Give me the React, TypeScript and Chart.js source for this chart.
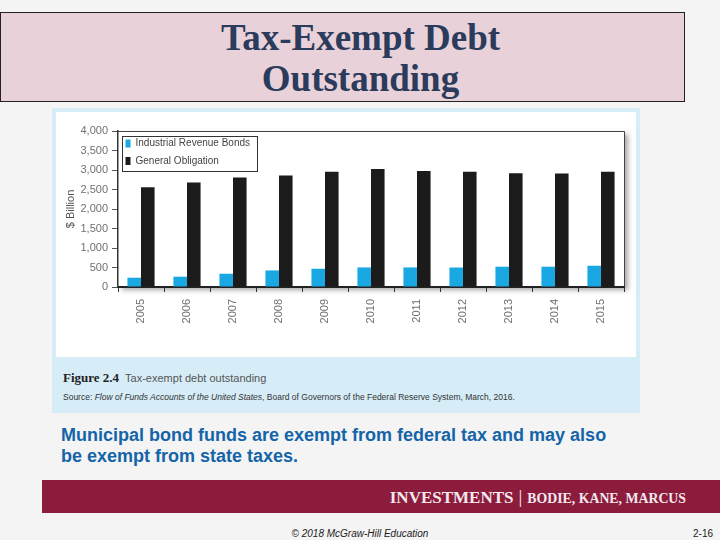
import React, { useEffect, useRef } from "react";
import { Chart, registerables } from "chart.js";

Chart.register(...registerables);

const years = ["2005", "2006", "2007", "2008", "2009", "2010", "2011", "2012", "2013", "2014", "2015"];
const industrialRevenueBonds = [238, 264, 340, 425, 468, 502, 502, 500, 520, 520, 545];
const generalObligation = [2560, 2677, 2805, 2856, 2958, 3028, 2977, 2958, 2917, 2908, 2958];
const seriesNames = ["Industrial Revenue Bonds", "General Obligation"];
const yMin = 0;
const yMax = 4000;
const yStep = 500;

const framePlugin = {
  id: "frameShadow",
  afterLayout(chart: any) {
    const lg = chart.legend;
    if (!lg) return;
    const dy = chart.chartArea.top - lg.top;
    lg.top += dy;
    lg.bottom += dy;
    (lg.legendHitBoxes || []).forEach((h: any) => {
      h.top += dy;
    });
  },
  beforeDraw(chart: any) {
    const { ctx, chartArea: a } = chart;
    ctx.save();
    ctx.shadowColor = "rgba(0,0,0,0.35)";
    ctx.shadowBlur = 5;
    ctx.shadowOffsetX = 4;
    ctx.shadowOffsetY = 3;
    ctx.fillStyle = "#ffffff";
    ctx.fillRect(a.left, a.top, a.right - a.left, a.bottom - a.top);
    ctx.restore();
    ctx.save();
    ctx.strokeStyle = "#444";
    ctx.lineWidth = 1;
    ctx.beginPath();
    ctx.moveTo(a.left, a.top + 0.5);
    ctx.lineTo(a.right + 0.5, a.top + 0.5);
    ctx.lineTo(a.right + 0.5, a.bottom);
    ctx.stroke();
    ctx.restore();
  },
  afterDraw(chart: any) {
    const lg = chart.legend;
    if (!lg || !lg.legendHitBoxes || !lg.legendHitBoxes.length) return;
    const hb = lg.legendHitBoxes;
    let l = Infinity, t = Infinity, r = -Infinity, b = -Infinity;
    hb.forEach((h: any) => {
      l = Math.min(l, h.left);
      t = Math.min(t, h.top);
      r = Math.max(r, h.left + h.width);
      b = Math.max(b, h.top + h.height);
    });
    const { ctx } = chart;
    ctx.save();
    ctx.strokeStyle = "#333";
    ctx.lineWidth = 1;
    ctx.strokeRect(Math.round(l - 4) + 0.5, Math.round(t - 3) + 0.5, Math.round(r - l + 10), Math.round(b - t + 7));
    ctx.restore();
  },
};

function TaxChart() {
  const ref = useRef<HTMLCanvasElement | null>(null);
  useEffect(() => {
    if (!ref.current) return;
    const chart = new Chart(ref.current, {
      type: "bar",
      data: {
        labels: years,
        datasets: [
          {
            label: seriesNames[0],
            data: industrialRevenueBonds,
            backgroundColor: "#19a8e2",
            borderWidth: 0,
            barPercentage: 1,
            categoryPercentage: 0.59,
          },
          {
            label: seriesNames[1],
            data: generalObligation,
            backgroundColor: "#1b1b1b",
            borderWidth: 0,
            barPercentage: 1,
            categoryPercentage: 0.59,
          },
        ],
      },
      options: {
        animation: false,
        responsive: true,
        maintainAspectRatio: false,
        layout: { padding: { left: 0, right: 12, top: 19, bottom: 0 } },
        plugins: {
          tooltip: { enabled: false },
          legend: {
            position: "chartArea" as any,
            align: "start",
            labels: {
              boxWidth: 5,
              boxHeight: 8,
              padding: 7.5,
              color: "#444",
              font: { family: "Liberation Sans", size: 10 },
            },
          },
        },
        scales: {
          x: {
            grid: { offset: true, drawOnChartArea: false, tickLength: 5, color: "#333", lineWidth: 1 },
            border: { color: "#222", width: 2 },
            ticks: {
              minRotation: 90,
              maxRotation: 90,
              padding: 7,
              color: "#707070",
              font: { family: "Liberation Sans", size: 11 },
            },
            afterFit(scale: any) {
              scale.height = 70;
            },
          },
          y: {
            min: yMin,
            max: yMax,
            grid: { drawOnChartArea: false, tickLength: 6, color: "#555", lineWidth: 1 },
            border: { color: "#333", width: 1.5 },
            ticks: {
              stepSize: yStep,
              padding: 4,
              color: "#707070",
              font: { family: "Liberation Sans", size: 11 },
              callback: (v: any) => Number(v).toLocaleString("en-US"),
            },
            title: {
              display: true,
              text: "$ Billion",
              color: "#555",
              font: { family: "Liberation Sans", size: 11 },
              padding: { top: 8, bottom: 0 },
            },
            afterFit(scale: any) {
              scale.width = 62;
            },
          },
        },
      },
      plugins: [framePlugin],
    });
    return () => chart.destroy();
  }, []);
  return (
    <div style={{ position: "absolute", left: 56, top: 112, width: 580, height: 245 }}>
      <canvas ref={ref} />
    </div>
  );
}

export default function App() {
  return (
    <div
      style={{
        position: "fixed",
        left: 0,
        top: 0,
        width: 720,
        height: 540,
        background: "#f4f4f4",
        overflow: "hidden",
        fontFamily: "Liberation Sans, Arial, sans-serif",
      }}
    >
      <div
        style={{
          position: "absolute",
          left: 0,
          top: 12,
          width: 685,
          height: 90,
          boxSizing: "border-box",
          border: "1px solid #222",
          background: "#e9d1d9",
          color: "#2b3b5b",
          fontFamily: "Liberation Serif, serif",
          fontWeight: "bold",
          fontSize: 37,
          lineHeight: "41px",
          textAlign: "center",
          paddingTop: 4,
          paddingLeft: 36,
        }}
      >
        Tax-Exempt Debt
        <br />
        Outstanding
      </div>

      <div
        style={{
          position: "absolute",
          left: 52,
          top: 108,
          width: 588,
          height: 305,
          background: "#d6edf8",
        }}
      />
      <div style={{ position: "absolute", left: 56, top: 112, width: 580, height: 245, background: "#ffffff" }} />
      <TaxChart />
      <div
        style={{
          position: "absolute",
          left: 63,
          top: 368,
          whiteSpace: "nowrap",
          lineHeight: "18px",
        }}
      >
        <span style={{ fontFamily: "Liberation Serif, serif", fontWeight: "bold", fontSize: 13, color: "#222" }}>
          Figure 2.4
        </span>
        <span style={{ fontSize: 11, color: "#555", marginLeft: 6 }}>Tax-exempt debt outstanding</span>
      </div>
      <div
        style={{
          position: "absolute",
          left: 63,
          top: 391,
          whiteSpace: "nowrap",
          fontSize: 8.5,
          color: "#333",
          lineHeight: "12px",
        }}
      >
        Source: <i>Flow of Funds Accounts of the United States</i>, Board of Governors of the Federal Reserve System,
        March, 2016.
      </div>

      <div
        style={{
          position: "absolute",
          left: 61,
          top: 425,
          fontWeight: "bold",
          fontSize: 18,
          lineHeight: "21px",
          color: "#1464a8",
          whiteSpace: "nowrap",
        }}
      >
        Municipal bond funds are exempt from federal tax and may also
        <br />
        be exempt from state taxes.
      </div>

      <div
        style={{
          position: "absolute",
          left: 42,
          top: 480,
          width: 678,
          height: 33,
          background: "#8c1c3c",
        }}
      >
        <div
          style={{
            position: "absolute",
            right: 34,
            top: 0,
            height: 33,
            lineHeight: "33px",
            whiteSpace: "nowrap",
            color: "#f4e8ee",
            fontFamily: "Liberation Serif, serif",
            fontWeight: "bold",
          }}
        >
          <span style={{ fontSize: 17 }}>INVESTMENTS</span>
          <span style={{ fontSize: 19, fontWeight: "normal", margin: "0 5px" }}>|</span>
          <span style={{ fontSize: 13.8 }}>BODIE, KANE, MARCUS</span>
        </div>
      </div>

      <div
        style={{
          position: "absolute",
          left: 0,
          width: 720,
          top: 528,
          textAlign: "center",
          fontSize: 10,
          fontStyle: "italic",
          color: "#222",
          lineHeight: "12px",
        }}
      >
        © 2018 McGraw-Hill Education
      </div>
      <div style={{ position: "absolute", left: 693, top: 528, fontSize: 10, color: "#222", lineHeight: "12px" }}>
        2-16
      </div>
    </div>
  );
}
